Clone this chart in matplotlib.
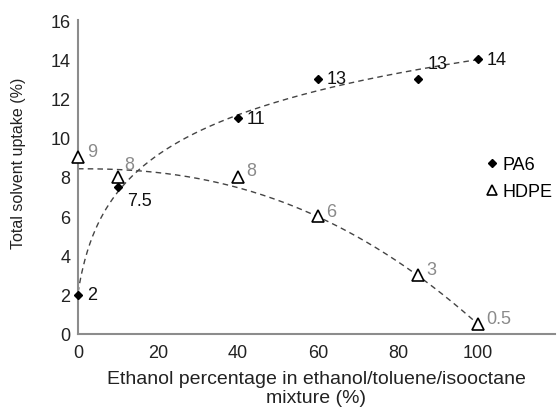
import numpy as np
import matplotlib
matplotlib.use("Agg")
import matplotlib.pyplot as plt

# ---- data ----
ethanol_pct = [0, 10, 40, 60, 85, 100]
pa6_uptake = [2, 7.5, 11, 13, 13, 14]
hdpe_uptake = [9, 8, 8, 6, 3, 0.5]
pa6_labels = ["2", "7.5", "11", "13", "13", "14"]
hdpe_labels = ["9", "8", "8", "6", "3", "0.5"]
x_ticks = [0, 20, 40, 60, 80, 100]
y_ticks = [0, 2, 4, 6, 8, 10, 12, 14, 16]

# trend-line parameters (as drawn in the original)
pa6_trend = dict(y0=2.1, a=3.2, d=2.5)       # y0 + a*ln(1 + x/d)
hdpe_trend = dict(y0=8.42, k=1.99e-4, p=2.3)  # y0 - k*x**p

plt.rcParams['font.family'] = ['Liberation Sans', 'DejaVu Sans']

fig = plt.figure(figsize=(5.58, 4.14), dpi=100)
ax = fig.add_axes([78 / 558, 79 / 414, 477 / 558, 314 / 414])

x = np.array(ethanol_pct, float)
yp = np.array(pa6_uptake, float)
yh = np.array(hdpe_uptake, float)

xs = np.linspace(0, x.max(), 300)
ax.plot(xs, pa6_trend['y0'] + pa6_trend['a'] * np.log1p(xs / pa6_trend['d']),
        ls=(0, (4, 3)), color='#444444', lw=1.0)
ax.plot(xs, hdpe_trend['y0'] - hdpe_trend['k'] * xs ** hdpe_trend['p'],
        ls=(0, (4, 3)), color='#444444', lw=1.0)

ax.plot(x, yp, ls='none', marker='D', ms=4.5, color='black', label='PA6', clip_on=False, zorder=5)
ax.plot(x, yh, ls='none', marker='^', ms=8, mfc='white', mec='black', mew=1.2,
        label='HDPE', clip_on=False, zorder=5)

pa6_off = [(9, 0), (9, -14), (9, 0), (9, 0), (10, 15), (9, 0)]
hdpe_off = [(9, 6), (6, 13), (8, 7), (8, 5), (8, 6), (8, 6)]
for xi, yi, t, o in zip(x, yp, pa6_labels, pa6_off):
    ax.annotate(t, (xi, yi), xytext=o, textcoords='offset pixels', ha='left', va='center',
                fontsize=13, color='#111111', zorder=6)
for xi, yi, t, o in zip(x, yh, hdpe_labels, hdpe_off):
    ax.annotate(t, (xi, yi), xytext=o, textcoords='offset pixels', ha='left', va='center',
                fontsize=13, color='#8a8a8a', zorder=6)

ax.set_xlim(0, 119.25)
ax.set_ylim(0, 16)
ax.set_xticks(x_ticks)
ax.set_yticks(y_ticks)
ax.tick_params(length=0, labelsize=13, colors='#222222')
ax.tick_params(axis='x', pad=7)
ax.tick_params(axis='y', pad=5.5)
for s in ['top', 'right']:
    ax.spines[s].set_visible(False)
for s in ['left', 'bottom']:
    ax.spines[s].set_color('#8c8c8c')
    ax.spines[s].set_linewidth(1.5)

ax.set_xlabel("Ethanol percentage in ethanol/toluene/isooctane\nmixture (%)", fontsize=14,
              color='#222222', linespacing=1.15)
ax.xaxis.set_label_coords(0.5, -0.115)
ax.set_ylabel("Total solvent uptake (%)", fontsize=11.5, color='#222222')
ax.yaxis.set_label_coords(-0.108, 0.546)

ax.legend(loc='upper left', bbox_to_anchor=(486.6 / 558, 1 - 157 / 414),
          bbox_transform=fig.transFigure, frameon=False, fontsize=13,
          handlelength=0.6, handletextpad=0.3, labelspacing=0.55, borderpad=0,
          borderaxespad=0, markerscale=0.85)

fig.savefig('out.png', dpi=100)
